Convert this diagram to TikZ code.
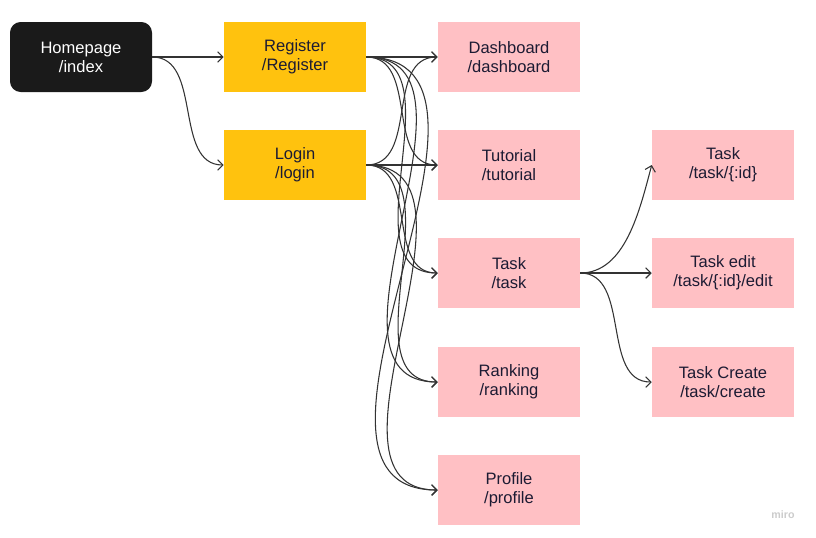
\documentclass[tikz,border=0pt]{standalone}
\usepackage{fontspec}
\setmainfont{Liberation Sans}
\usepackage{tikz}
\usetikzlibrary{arrows.meta,shapes,positioning}

\definecolor{homeblack}{HTML}{1A1A1A}
\definecolor{authyellow}{HTML}{FFC20E}
\definecolor{pagepink}{HTML}{FFC0C4}
\definecolor{pagetext}{HTML}{1C1B33}
\definecolor{linkgray}{HTML}{333333}

\begin{document}
\begin{tikzpicture}[x=0.75pt,y=-0.75pt,
    page/.style={minimum width=106.5pt, minimum height=52.5pt, inner sep=0pt,
      align=center, text=pagetext, font=\fontsize{12.4}{14.3}\selectfont},
    home/.style={page, fill=homeblack, text=white, rounded corners=8pt},
    auth/.style={page, fill=authyellow},
    view/.style={page, fill=pagepink},
    link/.style={draw=linkgray, line width=0.8pt, -{Straight Barb[length=4pt,width=8pt]}}]
  \useasboundingbox (0,0) rectangle (816,537);

  % left column
  \node[home] (home) at (81,57) {Homepage\\/index};
  \node[auth] (reg) at (295,57) {Register\\/Register};
  \node[auth] (login) at (295,165) {Login\\/login};

  % pages
  \node[view] (dash) at (509,57) {Dashboard\\/dashboard};
  \node[view] (tut) at (509,165) {Tutorial\\/tutorial};
  \node[view] (task) at (509,273) {Task\\/task};
  \node[view] (rank) at (509,382) {Ranking\\/ranking};
  \node[view] (prof) at (509,490) {Profile\\/profile};

  % task pages
  \node[view] (taskid) at (723,165) {Task\\/task/\{:id\}};
  \node[view] (taskedit) at (723,273) {Task edit\\/task/\{:id\}/edit};
  \node[view] (taskcreate) at (723,382) {Task Create\\/task/create};

  \node[text=gray!40, font=\bfseries\fontsize{8}{9}\selectfont] (miro) at (783,515) {miro};

  % links
  \draw[link] (home.east) -- (reg.west);
  \draw[link] (home.east) to[out=0, in=180] (login.west);
  \foreach \t in {dash,tut,task,rank,prof} {
    \draw[link] (reg.east) to[out=0, in=180, looseness=1.05] (\t.west);
    \draw[link] (login.east) to[out=0, in=180, looseness=1.05] (\t.west);
  }
  \draw[link] (task.east) .. controls +(45,0) and +(-12,45) .. (taskid.west);
  \draw[link] (task.east) -- (taskedit.west);
  \draw[link] (task.east) to[out=0, in=180] (taskcreate.west);
\end{tikzpicture}
\end{document}
